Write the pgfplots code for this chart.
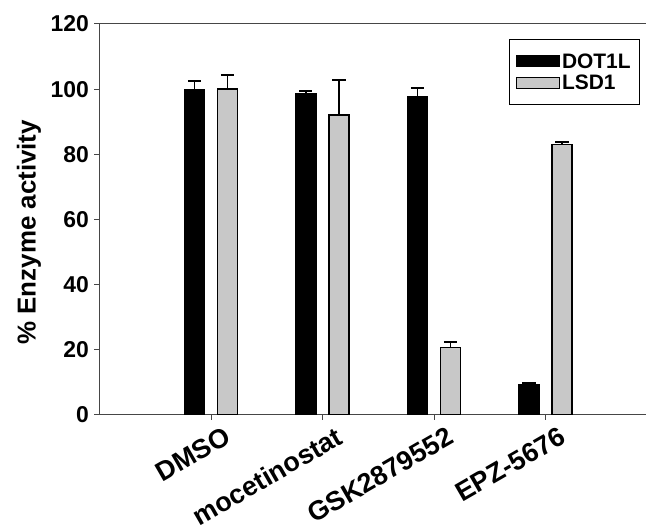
\documentclass[border=0pt]{standalone}
\usepackage{pgfplots}
\pgfplotsset{compat=1.18}
\usepackage{fontspec}
\setmainfont{Liberation Sans}
\definecolor{lsdgray}{RGB}{200,200,200}
\definecolor{axisgray}{RGB}{70,70,70}

\begin{document}
\begin{tikzpicture}
\begin{axis}[
  scale only axis,
  width=557.5bp, height=390.7bp,
  xmin=0, xmax=5, ymin=0, ymax=120,
  axis x line*=bottom,
  axis y line*=left,
  xtick={1,2,3,4},
  xticklabels={DMSO, mocetinostat, GSK2879552, EPZ-5676},
  ytick={0,20,...,120},
  tick align=outside,
  major tick length=5bp,
  axis line style={axisgray, line width=1pt},
  tick style={axisgray, line width=1pt},
  /pgf/number format/assume math mode=true,
  yticklabel style={font=\bfseries\fontsize{23}{23}\selectfont, xshift=-2bp},
  xticklabel style={font=\bfseries\fontsize{27}{27}\selectfont, rotate=30,
                    anchor=north east, xshift=11bp, yshift=-8bp},
  ylabel={\% Enzyme activity},
  ylabel style={font=\bfseries\fontsize{26}{26}\selectfont, yshift=3bp, xshift=-13bp},
  ybar, bar width=20bp,
  clip=false,
  legend style={at={(0.9695,0.9616)}, anchor=north east, draw=black, line width=0.8pt,
                font=\bfseries\fontsize{21}{21}\selectfont,
                inner xsep=7bp, inner ysep=12bp, row sep=1bp},
  legend cell align=left,
  legend image code/.code={\draw[#1, line width=1pt] (0bp,-5.5bp) rectangle (43bp,5.5bp);},
  error bars/y dir=plus,
  error bars/y explicit,
  error bars/error bar style={line width=2pt, black},
  error bars/error mark options={line width=2pt, black, mark size=6.5bp, rotate=90},
]
% top frame line
\draw[axisgray, line width=1pt] (axis cs:0,120) -- (axis cs:5,120);

\addplot[fill=black, draw=black, line width=1.2pt, bar shift=-16.5bp]
  coordinates {
    (1,100.0) +- (0,2.4)
    (2,98.5)  +- (0,0.8)
    (3,97.7)  +- (0,2.6)
    (4,9.2)   +- (0,0.4)
  };
\addplot[fill=lsdgray, draw=black, line width=1.4pt, bar shift=16.5bp]
  coordinates {
    (1,100.0) +- (0,4.4)
    (2,92.1)  +- (0,10.7)
    (3,20.6)  +- (0,1.6)
    (4,83.0)  +- (0,0.7)
  };
\legend{DOT1L, LSD1}
\end{axis}
\pgfresetboundingbox
\path[use as bounding box] (current axis.south west) ++(-99.5bp,-116.3bp) rectangle ++(646bp,531bp);
\end{tikzpicture}
\end{document}
